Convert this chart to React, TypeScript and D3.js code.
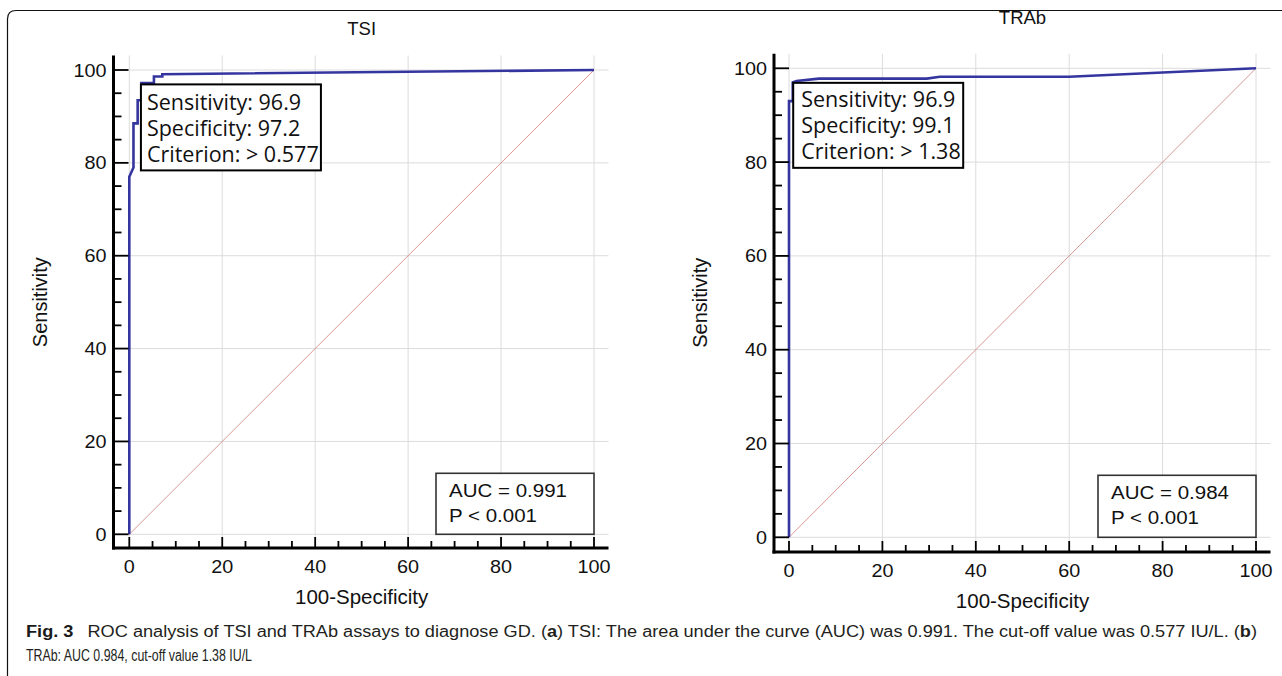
import React from 'react';
import * as d3 from 'd3';

// ROC curve points: x = 100-Specificity, y = Sensitivity
const tsiFpr = [0, 0, 0.9, 0.9, 1.8, 1.8, 2.6, 2.6, 5.3, 5.3, 7.1, 7.1, 100];
const tsiTpr = [0, 77, 79, 88.5, 88.5, 93.5, 93.5, 97.2, 97.2, 98.6, 98.6, 99.1, 100];
const trabFpr = [0, 0, 0.8, 0.8, 1.6, 6.4, 29.5, 32.3, 60, 100];
const trabTpr = [0, 93, 93, 97, 97.3, 97.8, 97.8, 98.2, 98.2, 100];

const majorTicks = [0, 20, 40, 60, 80, 100];
const minorTicks = d3.range(0, 101, 5);

const tsiCriterion = ['Sensitivity: 96.9', 'Specificity: 97.2', 'Criterion: > 0.577'];
const trabCriterion = ['Sensitivity: 96.9', 'Specificity: 99.1', 'Criterion: > 1.38'];
const tsiAuc = ['AUC = 0.991', 'P < 0.001'];
const trabAuc = ['AUC = 0.984', 'P < 0.001'];
const tsiCut = [2.5, 96.9];
const trabCut = [0.9, 96.9];

const ARIAL = '"Liberation Sans", Arial, sans-serif';
const BOX_FONT = '"Open Sans", "Noto Sans", sans-serif';
const BLUE = '#3535a0';

const panels = [
  {
    title: 'TSI', titleY: 35, fpr: tsiFpr, tpr: tsiTpr,
    xr: [129.3, 594], yr: [534.3, 70], axisX: 113.5, axisY: 548,
    crit: tsiCriterion, cut: tsiCut, critW: 180, critH: 86, critBase: 25.5, critPad: 6,
    auc: tsiAuc, aucW: 158, aucH: 61,
  },
  {
    title: 'TRAb', titleY: 24, fpr: trabFpr, tpr: trabTpr,
    xr: [789, 1256], yr: [537.3, 68.3], axisX: 774, axisY: 552,
    crit: trabCriterion, cut: trabCut, critW: 170, critH: 85, critBase: 24, critPad: 8,
    auc: trabAuc, aucW: 158, aucH: 62,
  },
];

const T = ({ x, y, size, anchor = 'start', sx = 1, rotate = 0, family = ARIAL, weight = 'normal', fill = '#111', children }: any) => (
  <text
    transform={`translate(${x},${y}) rotate(${rotate}) scale(${sx},1)`}
    fontSize={size}
    fontFamily={family}
    fontWeight={weight}
    textAnchor={anchor}
    fill={fill}
  >
    {children}
  </text>
);

const Panel = ({ p }: any) => {
  const x = d3.scaleLinear().domain([0, 100]).range(p.xr);
  const y = d3.scaleLinear().domain([0, 100]).range(p.yr);
  const pad = 14.5;
  const right = p.xr[1] + pad;
  const top = p.yr[1] - pad;
  const pts: [number, number][] = p.fpr.map((f: number, i: number) => [f, p.tpr[i]]);
  const line = d3.line<[number, number]>().x(d => x(d[0])).y(d => y(d[1]));
  const cx = (p.xr[0] + p.xr[1]) / 2;
  const cy = (p.yr[0] + p.yr[1]) / 2;
  const bx = x(p.cut[0]);
  const by = y(p.cut[1]);
  const ax = x(100) - p.aucW;
  const ay = y(0) - p.aucH;

  return (
    <g>
      {/* grid */}
      {majorTicks.map(t => (
        <g key={'g' + t} stroke="#dcdcdc" strokeWidth={1}>
          <line x1={p.axisX} x2={right} y1={y(t)} y2={y(t)} />
          <line x1={x(t)} x2={x(t)} y1={top} y2={p.axisY} />
        </g>
      ))}
      {/* diagonal */}
      <line x1={x(0)} y1={y(0)} x2={x(100)} y2={y(100)} stroke="#d99696" strokeWidth={1} />
      {/* ROC curve */}
      <path d={line(pts) || ''} fill="none" stroke={BLUE} strokeWidth={2.6} strokeLinejoin="miter" />

      {/* axes */}
      <line x1={p.axisX} x2={p.axisX} y1={top} y2={p.axisY + 1.5} stroke="#000" strokeWidth={3} />
      <line x1={p.axisX - 1.5} x2={right} y1={p.axisY} y2={p.axisY} stroke="#000" strokeWidth={3} />
      {minorTicks.map(t => {
        const major = t % 20 === 0;
        return (
          <g key={'t' + t} stroke="#000" strokeWidth={1.8}>
            <line x1={p.axisX} x2={p.axisX + (major ? 15 : 8)} y1={y(t)} y2={y(t)} />
            <line x1={x(t)} x2={x(t)} y1={p.axisY} y2={p.axisY - (major ? 11 : 7)} />
          </g>
        );
      })}
      {majorTicks.map(t => (
        <g key={'l' + t}>
          <T x={p.axisX - 7} y={y(t) + 6.5} size={18} sx={1.1} anchor="end">{t}</T>
          <T x={x(t)} y={p.axisY + 25} size={18} sx={1.1} anchor="middle">{t}</T>
        </g>
      ))}

      {/* titles */}
      <T x={cx} y={p.titleY} size={18.5} anchor="middle">{p.title}</T>
      <T x={cx} y={p.axisY + 56} size={20.5} anchor="middle">100-Specificity</T>
      <T x={p.axisX - 67} y={cy} size={20} anchor="middle" rotate={-90}>Sensitivity</T>

      {/* criterion box */}
      <rect x={bx} y={by} width={p.critW} height={p.critH} fill="#fff" stroke="#000" strokeWidth={2} />
      {p.crit.map((s: string, i: number) => (
        <T key={s} x={bx + p.critPad} y={by + p.critBase + i * 26} size={21.5} family={BOX_FONT}>{s}</T>
      ))}

      {/* AUC box */}
      <rect x={ax} y={ay} width={p.aucW} height={p.aucH} fill="#fff" stroke="#333" strokeWidth={1.6} />
      {p.auc.map((s: string, i: number) => (
        <T key={s} x={ax + 13} y={ay + 23.5 + i * 25} size={19} sx={1.08}>{s}</T>
      ))}
    </g>
  );
};

export default function App() {
  const W = 1282;
  const H = 676;
  return (
    <svg width={W} height={H} style={{ position: 'absolute', left: 0, top: 0, background: '#fff' }}>
      <rect width={W} height={H} fill="#fff" />
      <path d="M7.5,676 V19 Q7.5,10.5 16,10.5 H1282" fill="none" stroke="#111" strokeWidth={1.2} />
      {panels.map(p => <Panel key={p.title} p={p} />)}
      <g fontFamily={ARIAL} fontSize={16} fill="#231f20">
        <text x={26} y={637} textLength={1231} lengthAdjust="spacingAndGlyphs">
          <tspan fontWeight="bold" fill="#1a1a1a">Fig. 3</tspan>
          <tspan>{'\u2002 ROC analysis of TSI and TRAb assays to diagnose GD. ('}</tspan>
          <tspan fontWeight="bold">a</tspan>
          <tspan>{') TSI: The area under the curve (AUC) was 0.991. The cut-off value was 0.577 IU/L. ('}</tspan>
          <tspan fontWeight="bold">b</tspan>
          <tspan>)</tspan>
        </text>
        <text x={26} y={661} textLength={226} lengthAdjust="spacingAndGlyphs">
          TRAb: AUC 0.984, cut-off value 1.38 IU/L
        </text>
      </g>
    </svg>
  );
}
